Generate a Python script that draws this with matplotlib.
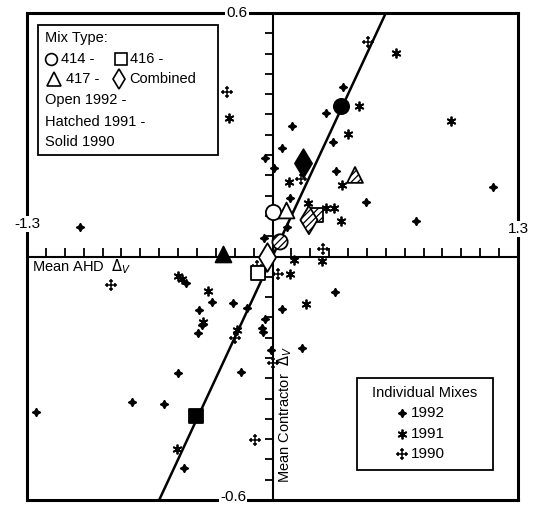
import numpy as np
import matplotlib
matplotlib.use('Agg')
import matplotlib.pyplot as plt
from matplotlib.path import Path

plt.rcParams['font.family'] = ['Liberation Sans', 'DejaVu Sans']
plt.rcParams['hatch.linewidth'] = 0.9

# ---------------- data ----------------
x_lim = 1.3
y_lim = 0.6

ind_1992_x = [-1.019, -0.040, 0.103, 0.283, 0.373, 0.050, 0.320, 0.008, 0.336, 0.093,
              0.495, 0.760, 1.168, -0.045, 0.077, -0.458, -0.320, -0.209, -0.389, -0.373,
              -0.394, -0.135, -0.040, -0.056, -0.050, -0.008, 0.331, 0.050, 0.156, -0.500,
              -0.167, -0.744, -0.575, -1.252, -0.469]
ind_1992_y = [0.073, 0.243, 0.322, 0.354, 0.418, 0.267, 0.282, 0.218, 0.211, 0.144,
              0.134, 0.087, 0.171, 0.046, 0.073, -0.065, -0.112, -0.115, -0.132, -0.169,
              -0.189, -0.127, -0.154, -0.176, -0.186, -0.230, -0.087, -0.129, -0.225, -0.287,
              -0.285, -0.359, -0.363, -0.383, -0.521]

ind_1991_x = [-0.230, 0.654, 0.458, 0.945, 0.400, 0.087, 0.368, 0.188, 0.283, 0.326,
              0.363, 0.262, 0.114, 0.093, 0.177, -0.500, -0.479, -0.342, -0.368, -0.188,
              -0.506]
ind_1991_y = [0.341, 0.501, 0.371, 0.334, 0.302, 0.184, 0.176, 0.132, 0.120, 0.120,
              0.087, -0.011, -0.009, -0.043, -0.117, -0.048, -0.055, -0.085, -0.161, -0.181,
              -0.474]

ind_1990_x = [-0.241, 0.506, 0.151, 0.267, 0.029, -0.082, -0.855, -0.199, 0.003, -0.093]
ind_1990_y = [0.405, 0.529, 0.191, 0.018, -0.043, -0.023, -0.070, -0.201, -0.262, -0.452]

mix_types = ['414', '416', '417', 'Combined']
mean_1992_x = [0.003, -0.077, 0.071, -0.029]
mean_1992_y = [0.110, -0.041, 0.115, -0.001]
mean_1991_x = [0.040, 0.230, 0.437, 0.193]
mean_1991_y = [0.036, 0.102, 0.201, 0.090]
mean_1990_x = [0.363, -0.405, -0.262, 0.161]
mean_1990_y = [0.371, -0.393, 0.006, 0.230]

fit_slope = 1.0
fit_intercept = 0.0

# ---------------- styles ----------------
mix_marker = {'414': 'o', '416': 's', '417': '^', 'Combined': 'd'}
mix_size = {'414': 120, '416': 105, '417': 130, 'Combined': 210}

cross_verts = [(0, -1), (0, 1), (-1, 0), (1, 0),
               (-0.35, 0.75), (0.35, 0.75), (-0.35, -0.75), (0.35, -0.75),
               (0.75, -0.35), (0.75, 0.35), (-0.75, -0.35), (-0.75, 0.35)]
cross_codes = [Path.MOVETO, Path.LINETO] * 6
cross_marker = Path(cross_verts, cross_codes)
star4 = (4, 1, 0)
aster = (6, 2, 0)

fig = plt.figure(figsize=(5.34, 5.05), dpi=100)
ax = fig.add_axes([27 / 534, 1 - 500 / 505, 491 / 534, 487 / 505])
ax.set_xlim(-x_lim, x_lim)
ax.set_ylim(-y_lim, y_lim)
ax.set_xticks([])
ax.set_yticks([])
for sp in ax.spines.values():
    sp.set_linewidth(2.2)

# center axes with ticks
ax.axhline(0, color='black', lw=1.5, zorder=2)
ax.axvline(0, color='black', lw=1.5, zorder=2)
for t in np.arange(-1.2, 1.25, 0.1):
    if abs(t) < 1e-6:
        continue
    ax.plot([t, t], [0, 0.02], color='black', lw=1.3, zorder=2, solid_capstyle='butt')
for t in np.arange(-0.55, 0.56, 0.05):
    if abs(t) < 1e-6:
        continue
    ax.plot([-0.038, 0], [t, t], color='black', lw=1.3, zorder=2, solid_capstyle='butt')

# fit line
lx = np.array([-x_lim, x_lim])
ax.plot(lx, fit_slope * lx + fit_intercept, color='black', lw=1.8, zorder=3)

# individual mixes
ax.plot(ind_1992_x, ind_1992_y, ls='none', marker=star4, ms=6, color='black', zorder=4)
ax.plot(ind_1991_x, ind_1991_y, ls='none', marker=aster, ms=7, mew=1.3, color='black', zorder=4)
ax.plot(ind_1990_x, ind_1990_y, ls='none', marker=cross_marker, ms=8, mew=1.1, color='black', zorder=4)

# means
for i, m in enumerate(mix_types):
    mk = mix_marker[m]
    s = mix_size[m]
    ax.scatter([mean_1992_x[i]], [mean_1992_y[i]], marker=mk, s=s, facecolor='white',
               edgecolor='black', linewidths=1.3, zorder=5)
    ax.scatter([mean_1991_x[i]], [mean_1991_y[i]], marker=mk, s=s, facecolor='white',
               edgecolor='black', linewidths=1.3, hatch='/////', zorder=5)
    ax.scatter([mean_1990_x[i]], [mean_1990_y[i]], marker=mk, s=s, facecolor='black',
               edgecolor='black', linewidths=1.3, zorder=5)

# axis end labels
lab_kw = dict(fontsize=11, zorder=10, clip_on=False,
              bbox=dict(facecolor='white', edgecolor='none', pad=1.0))
ax.text(-0.188, y_lim, '0.6', ha='center', va='center', **lab_kw)
ax.text(-0.209, -0.5915, '-0.6', ha='center', va='center', **lab_kw)
ax.text(-x_lim, 0.080, '-1.3', ha='center', va='center', **lab_kw)
ax.text(x_lim, 0.068, '1.3', ha='center', va='center', **lab_kw)

ax.text(-1.273, -0.026, 'Mean AHD  $\\Delta_V$', ha='left', va='center', fontsize=10.5, zorder=10)
ax.text(0.066, -0.558, 'Mean Contractor  $\\Delta_V$', ha='center', va='bottom',
        rotation=90, fontsize=10.5, zorder=10)

# legend box 1 (axes fraction)
def fx(px):
    return (px - 27) / 491

def fy(py):
    return (500 - py) / 487

ax.add_patch(plt.Rectangle((fx(38), fy(155)), fx(218) - fx(38), fy(25) - fy(155),
                           transform=ax.transAxes, facecolor='white', edgecolor='black',
                           lw=1.3, zorder=8))
tkw = dict(transform=ax.transAxes, ha='left', va='center', fontsize=10.5, zorder=9)
ax.text(fx(45), fy(38), 'Mix Type:', **tkw)
sym_kw = dict(transform=ax.transAxes, ls='none', mfc='white', mec='black', mew=1.2,
              zorder=9, clip_on=False)
ax.plot([fx(51)], [fy(59)], marker='o', ms=8.5, **sym_kw)
ax.text(fx(61), fy(59), '414 -', **tkw)
ax.plot([fx(121)], [fy(59)], marker='s', ms=8, **sym_kw)
ax.text(fx(130), fy(59), '416 -', **tkw)
ax.plot([fx(54)], [fy(79)], marker='^', ms=10, **sym_kw)
ax.text(fx(66), fy(79), '417 -', **tkw)
ax.plot([fx(119)], [fy(79)], marker='d', ms=10.5, **sym_kw)
ax.text(fx(129), fy(79), 'Combined', **tkw)
for s, py in zip(['Open 1992 -', 'Hatched 1991 -', 'Solid 1990'], [100, 122, 142]):
    ax.text(fx(45), fy(py), s, **tkw)

# legend box 2
ax.add_patch(plt.Rectangle((fx(357), fy(470)), fx(493) - fx(357), fy(378) - fy(470),
                           transform=ax.transAxes, facecolor='white', edgecolor='black',
                           lw=1.3, zorder=8))
ax.text(fx(425), fy(393), 'Individual Mixes', transform=ax.transAxes, ha='center',
        va='center', fontsize=10.5, zorder=9)
leg2 = [('1992', star4, 6, 1.0), ('1991', aster, 7, 1.3), ('1990', cross_marker, 8, 1.1)]
for (s, mk, ms, mew), py in zip(leg2, [413, 434, 454]):
    ax.plot([fx(402)], [fy(py)], transform=ax.transAxes, marker=mk, ms=ms, mew=mew,
            color='black', ls='none', zorder=9, clip_on=False)
    ax.text(fx(411), fy(py), s, transform=ax.transAxes, ha='left', va='center',
            fontsize=11, zorder=9)

fig.savefig('out.png', dpi=100)
